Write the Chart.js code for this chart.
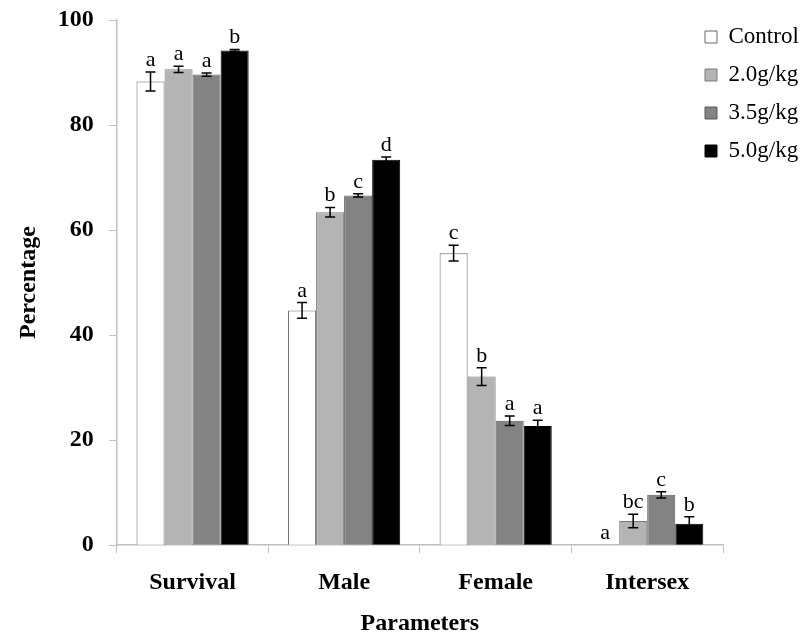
<!DOCTYPE html>
<html>
<head>
<meta charset="utf-8">
<script src="https://cdn.jsdelivr.net/npm/chart.js@4.4.1/dist/chart.umd.min.js"></script>
<style>
  html, body { margin: 0; padding: 0; background: #fff; }
  #wrap { width: 803px; height: 636px; }
</style>
</head>
<body>
<div id="wrap"><canvas id="sexChart" width="803" height="636"></canvas></div>
<script>
const categories = ['Survival', 'Male', 'Female', 'Intersex'];
const seriesNames = ['Control', '2.0g/kg', '3.5g/kg', '5.0g/kg'];

const controlVals = [88.3, 44.7, 55.6, 0];
const g20Vals = [90.6, 63.4, 32.1, 4.6];
const g35Vals = [89.6, 66.6, 23.7, 9.6];
const g50Vals = [94.2, 73.4, 22.7, 4.1];

const controlErr = [1.8, 1.5, 1.5, 0];
const g20Err = [0.6, 0.9, 1.7, 1.3];
const g35Err = [0.3, 0.3, 0.9, 0.6];
const g50Err = [0.2, 0.5, 1.1, 1.3];

const controlLetters = ['a', 'a', 'c', 'a'];
const g20Letters = ['a', 'b', 'b', 'bc'];
const g35Letters = ['a', 'c', 'a', 'c'];
const g50Letters = ['b', 'd', 'a', 'b'];

const yTicks = [0, 20, 40, 60, 80, 100];

const serif = "'Liberation Serif', 'Times New Roman', serif";

const errs = [controlErr, g20Err, g35Err, g50Err];
const letters = [controlLetters, g20Letters, g35Letters, g50Letters];

// error bars + significance letters
const errorBars = {
  id: 'errorBars',
  afterDatasetsDraw(chart) {
    const ctx = chart.ctx;
    const y = chart.scales.y;
    ctx.save();
    ctx.strokeStyle = '#000';
    ctx.lineWidth = 1.5;
    ctx.fillStyle = '#000';
    ctx.font = '22px ' + serif;
    ctx.textAlign = 'center';
    ctx.textBaseline = 'alphabetic';
    chart.data.datasets.forEach((ds, i) => {
      const meta = chart.getDatasetMeta(i);
      meta.data.forEach((bar, j) => {
        const v = ds.data[j];
        const e = errs[i][j];
        const top = y.getPixelForValue(v + e);
        const bot = y.getPixelForValue(v - e);
        if (e > 0) {
          ctx.beginPath();
          ctx.moveTo(bar.x, top);
          ctx.lineTo(bar.x, bot);
          ctx.moveTo(bar.x - 5, top);
          ctx.lineTo(bar.x + 5, top);
          ctx.moveTo(bar.x - 5, bot);
          ctx.lineTo(bar.x + 5, bot);
          ctx.stroke();
        }
        ctx.fillText(letters[i][j], bar.x, (e > 0 ? top : y.getPixelForValue(v)) - 6);
      });
    });
    ctx.restore();
  }
};

// put the legend at the top right, over the chart area
const legendPlace = {
  id: 'legendPlace',
  afterLayout(chart) {
    chart.legend.left = 690;
    chart.legend.right = 803;
    chart.legend.top = 10.5;
    chart.legend.bottom = 200;
  }
};

new Chart(document.getElementById('sexChart'), {
  type: 'bar',
  data: {
    labels: categories,
    datasets: [
      { label: seriesNames[0], data: controlVals, backgroundColor: '#ffffff', borderColor: '#666666', borderWidth: 1 },
      { label: seriesNames[1], data: g20Vals, backgroundColor: '#b4b4b4', borderColor: '#7a7a7a', borderWidth: 1 },
      { label: seriesNames[2], data: g35Vals, backgroundColor: '#838383', borderColor: '#5a5a5a', borderWidth: 1 },
      { label: seriesNames[3], data: g50Vals, backgroundColor: '#000000', borderColor: '#000000', borderWidth: 1 }
    ]
  },
  options: {
    responsive: false,
    animation: false,
    events: [],
    datasets: {
      bar: { categoryPercentage: 0.74, barPercentage: 1 }
    },
    layout: {
      padding: { left: 4, right: 80, top: 20, bottom: 0 }
    },
    plugins: {
      legend: {
        position: 'chartArea',
        align: 'start',
        labels: {
          color: '#000',
          boxWidth: 12,
          boxHeight: 12,
          padding: 15,
          font: { family: serif, size: 23 }
        }
      },
      tooltip: { enabled: false }
    },
    scales: {
      x: {
        grid: {
          offset: true,
          drawOnChartArea: false,
          tickLength: 8,
          color: '#bfbfbf'
        },
        border: { color: '#bfbfbf', width: 1.5 },
        ticks: {
          color: '#000',
          padding: 15,
          font: { family: serif, size: 24, weight: 'bold' }
        },
        title: {
          display: true,
          text: 'Parameters',
          color: '#000',
          padding: { top: 0, bottom: 0 },
          font: { family: serif, size: 24, weight: 'bold', lineHeight: 1 }
        }
      },
      y: {
        min: 0,
        max: 100,
        afterBuildTicks(scale) {
          scale.ticks = yTicks.map(v => ({ value: v }));
        },
        afterFit(scale) {
          scale.paddingTop = 10;
        },
        grid: {
          drawOnChartArea: false,
          tickLength: 8,
          color: '#bfbfbf'
        },
        border: { color: '#bfbfbf', width: 1.5 },
        ticks: {
          color: '#000',
          padding: 15,
          font: { family: serif, size: 24, weight: 'bold' }
        },
        title: {
          display: true,
          text: 'Percentage',
          color: '#000',
          padding: { top: 10, bottom: 0 },
          font: { family: serif, size: 24, weight: 'bold' }
        }
      }
    }
  },
  plugins: [errorBars, legendPlace]
});
</script>
</body>
</html>
